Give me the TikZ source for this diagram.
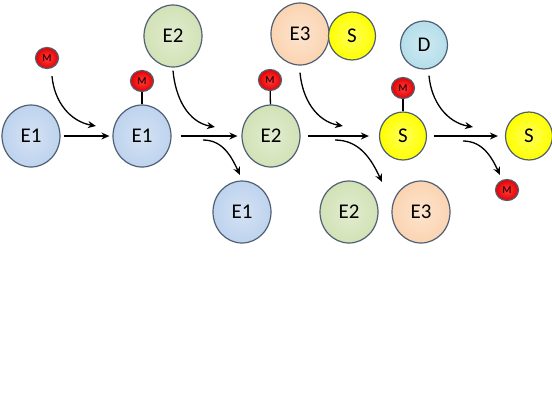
\documentclass[tikz,border=0pt]{standalone}
\usepackage{fontspec}
\setmainfont{Carlito}
\usetikzlibrary{shapes.geometric,arrows.meta}
\definecolor{rim}{RGB}{80,95,115}
\definecolor{eoneblue}{RGB}{190,211,238}
\definecolor{etwogreen}{RGB}{210,226,182}
\definecolor{ethreepeach}{RGB}{251,212,178}
\definecolor{sub}{RGB}{255,255,0}
\definecolor{dcyan}{RGB}{180,222,234}
\definecolor{mred}{RGB}{228,0,0}
\begin{document}
\begin{tikzpicture}[x=1bp,y=1bp,
  big/.style={ellipse,draw=rim,line width=1.2bp,inner sep=0pt,minimum width=58bp,minimum height=62bp,font=\fontsize{21}{24}\selectfont},
  small/.style={big,minimum width=47bp,minimum height=48bp},
  tint/.style={inner color=#1!65!white,outer color=#1},
  mball/.style={big,inner color=red!75!white,outer color=mred,minimum width=23bp,minimum height=21bp,font=\bfseries\fontsize{10.5}{11}\selectfont,text=black!75!red},
  flow/.style={-{Stealth[length=8bp,width=7bp]},line width=1.3bp},
  stick/.style={line width=1.3bp}]
\useasboundingbox (0,0) rectangle (552,-400);
\node[big,tint=eoneblue] (e1a) at (31,-136) {E1};
\node[mball] (m1) at (47,-58) {M};
\node[big,tint=eoneblue] (e1b) at (142,-136) {E1};
\node[mball] (m2) at (142,-81) {M};
\node[big,tint=etwogreen] (e2top) at (173,-36) {E2};
\node[big,tint=etwogreen] (e2b) at (271,-136) {E2};
\node[mball] (m3) at (270,-80) {M};
\node[big,tint=eoneblue] (e1c) at (242,-212) {E1};
\node[big,tint=ethreepeach] (e3top) at (300,-34) {E3};
\node[small,tint=sub] (stop) at (352,-36) {S};
\node[small,tint=sub] (s1) at (403,-136) {S};
\node[mball] (m4) at (403,-88) {M};
\node[big,tint=etwogreen] (e2c) at (349,-212) {E2};
\node[big,tint=ethreepeach] (e3c) at (421,-212) {E3};
\node[small,tint=dcyan] (d) at (424,-45) {D};
\node[small,tint=sub] (s2) at (529,-136) {S};
\node[mball] (m5) at (507,-190) {M};
\draw[stick] (m2) -- (e1b);
\draw[stick] (m3) -- (e2b);
\draw[stick] (m4) -- (s1);
\draw[flow,shorten <=3bp,shorten >=3bp] (e1a) -- (e1b);
\draw[flow,shorten <=9bp,shorten >=4bp] (e1b) -- (e2b);
\draw[flow,shorten <=7bp,shorten >=10bp] (e2b) -- (s1);
\draw[flow,shorten <=7bp,shorten >=7bp] (s1) -- (s2);
\coordinate (in1) at (96,-126);
\coordinate (in2) at (215,-127);
\coordinate (in3) at (343,-126);
\coordinate (in4) at (473,-127);
\draw[flow] ([xshift=5bp,yshift=-7bp]m1.south) to[out=-85,in=170] (in1);
\draw[flow] ([yshift=-3bp]e2top.south) to[out=-85,in=170] (in2);
\draw[flow] ([yshift=-7bp]e3top.south) to[out=-85,in=170] (in3);
\draw[flow] ([xshift=5bp,yshift=-6bp]d.south) to[out=-85,in=170] (in4);
\coordinate (out1) at (203,-140);
\coordinate (out2) at (335,-140);
\coordinate (out3) at (463,-141);
\coordinate (end1) at (240,-175);
\coordinate (end2) at (382,-182);
\coordinate (end3) at (500,-175);
\draw[flow] (out1) to[out=0,in=115] (end1);
\draw[flow] (out2) to[out=0,in=115] (end2);
\draw[flow] (out3) to[out=0,in=115] (end3);
\end{tikzpicture}
\end{document}
